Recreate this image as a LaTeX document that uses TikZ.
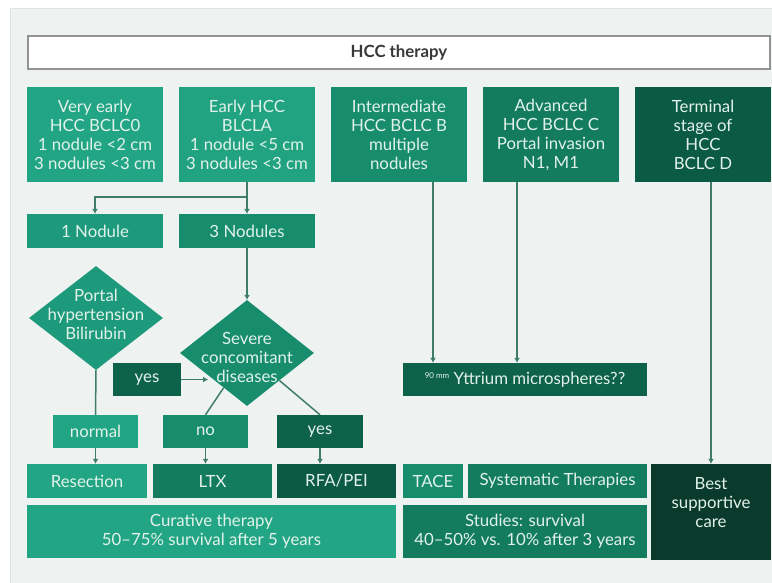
\documentclass[tikz,border=0pt]{standalone}
\usepackage{fontspec}
\setmainfont{Lato}
\usetikzlibrary{shapes.geometric,arrows.meta}

\definecolor{bgcol}{HTML}{EEF3F1}
\definecolor{framecol}{HTML}{DDE4E1}
\definecolor{linecol}{HTML}{3F7D6A}
\definecolor{txtcol}{HTML}{E2F2EB}
\definecolor{gA}{HTML}{22A584}
\definecolor{gB}{HTML}{1D9A7B}
\definecolor{gC}{HTML}{188D6E}
\definecolor{gD}{HTML}{137B5E}
\definecolor{gE}{HTML}{0E6249}
\definecolor{gF}{HTML}{0B5A43}
\definecolor{gG}{HTML}{093A2C}

\tikzset{
  box/.style={rectangle, fill=#1, text=txtcol, align=center, inner sep=0pt,
    font=\fontsize{16.8}{19}\selectfont},
  dia/.style={diamond, fill=#1, inner sep=0pt},
  diatext/.style={text=txtcol, align=center, font=\fontsize{16.8}{19}\selectfont},
  conn/.style={draw=linecol, line width=1.5pt},
  arr/.style={conn, -{Latex[length=5pt,width=6pt]}}
}

\begin{document}
\begin{tikzpicture}[x=1pt,y=-1pt]
        \useasboundingbox (0,0) rectangle (772,582);
        \fill[white] (0,0) rectangle (772,582);
        \draw[fill=bgcol, draw=framecol, line width=1pt] (10,8) rectangle (773,583);
        % title
        \node[rectangle, fill=white, draw=gray!85, line width=1.5pt, minimum width=742, minimum height=33,
          font=\fontsize{16.8}{19}\selectfont\bfseries, text=black!78] (title) at (399,52.5) {HCC therapy};
        % stages
        \node[box=gA, minimum width=136, minimum height=95] (vearly) at (95,134.5) {Very early\\HCC BCLC0\\1 nodule <2 cm\\3 nodules <3 cm};
        \node[box=gA!90!gC, minimum width=136, minimum height=95] (early) at (247,134.5) {Early HCC\\BLCLA\\1 nodule <5 cm\\3 nodules <3 cm};
        \node[box=gC, minimum width=136, minimum height=95] (inter) at (399,134.5) {Intermediate\\HCC BCLC B\\multiple\\nodules};
        \node[box=gD, minimum width=136, minimum height=95] (adv) at (551,134.5) {Advanced\\HCC BCLC C\\Portal invasion\\N1, M1};
        \node[box=gF, minimum width=136, minimum height=95] (term) at (703,134.5) {Terminal\\stage of\\HCC\\BCLC D};
        % nodules
        \node[box=gB, minimum width=136, minimum height=34] (nod1) at (95,231) {1 Nodule};
        \node[box=gC, minimum width=136, minimum height=34] (nod3) at (247,231) {3 Nodules};
        \coordinate (split) at (247,197);
        % decisions
        \node[dia=gB, minimum width=134, minimum height=104] (portal) at (96,318) {};
        \node[diatext] (portaltxt) at (96,314) {Portal\\hypertension\\Bilirubin};
        \node[dia=gC, minimum width=134, minimum height=106] (severe) at (247,353) {};
        \node[diatext] (severetxt) at (247,357) {Severe\\concomitant\\diseases};
        \node[box=gE, minimum width=68, minimum height=33] (yesA) at (147,379.5) {yes};
        \coordinate (sevin) at (208,379.5);
        \node[box=gA, minimum width=85, minimum height=33] (normal) at (95.5,431.5) {normal};
        \node[box=gC, minimum width=85, minimum height=33] (no) at (205.5,431.5) {no};
        \node[box=gE, minimum width=86, minimum height=33] (yesB) at (320,431.5) {yes};
        \node[box=gE, minimum width=244, minimum height=33] (yttr) at (525,379.5) {{\fontsize{8}{9}\selectfont\raisebox{6pt}{90 mm}} Yttrium microspheres??};
        % treatments
        \node[box=gA, minimum width=120, minimum height=34] (resec) at (87,481) {Resection};
        \node[box=gD, minimum width=119, minimum height=34] (ltx) at (212.5,481) {LTX};
        \node[box=gF, minimum width=119, minimum height=34] (rfa) at (336.5,481) {RFA/PEI};
        \node[box=gC, minimum width=60, minimum height=34] (tace) at (433,481) {TACE};
        \node[box=gD, minimum width=179, minimum height=34] (systh) at (557.5,481) {Systematic Therapies};
        \node[box=gG, minimum width=120, minimum height=96] (best) at (711,512) {Best\\supportive\\care\\~};
        % outcome
        \node[box=gA, minimum width=369, minimum height=53] (cur) at (211.5,531.5) {Curative therapy\\50--75\% survival after 5 years};
        \node[box=gD, minimum width=244, minimum height=53] (stud) at (525,531.5) {Studies: survival\\40--50\% vs. 10\% after 3 years};
        % connectors
        \draw[conn] (early.south) -- (split);
        \draw[arr] (split) -| (nod1.north);
        \draw[arr] (split) -- (nod3.north);
        \draw[arr] (nod3.south) -- (severe.north);
        \draw[arr] (yesA.east) -- (sevin);
        \draw[conn] (portal.south) -- (normal.north);
        \draw[conn] (severe) -- (no.north);
        \draw[conn] (severe) -- (yesB.north);
        \draw[arr] (normal.south) -- (normal.south |- resec.north);
        \draw[arr] (no.south) -- (no.south |- ltx.north);
        \draw[arr] (yesB.south) -- (yesB.south |- rfa.north);
        \draw[arr] (inter.south -| tace) -- (tace |- yttr.north);
        \draw[arr] ([xshift=-34pt]adv.south) -- ([xshift=-34pt]adv.south |- yttr.north);
        \draw[arr] (term.south -| best) -- (best.north);
\end{tikzpicture}
\end{document}
